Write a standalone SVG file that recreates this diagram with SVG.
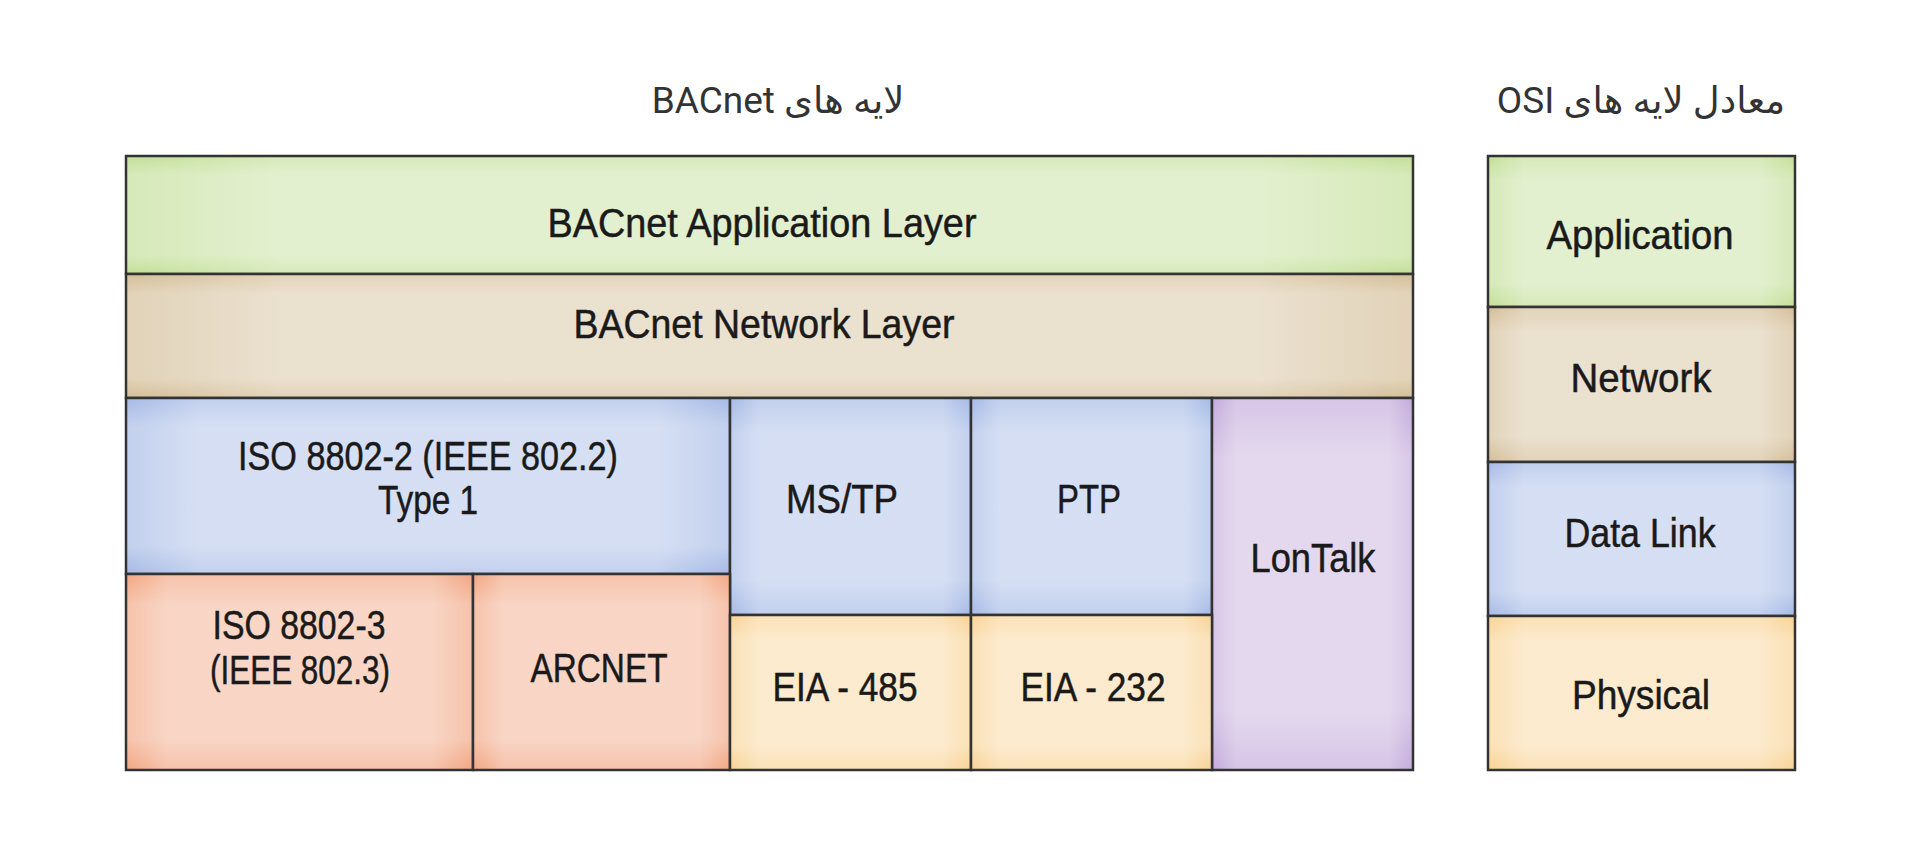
<svg xmlns="http://www.w3.org/2000/svg" width="1920" height="864" viewBox="0 0 1920 864">
  <defs>
    <linearGradient id="gh" x1="0" y1="0" x2="1" y2="0">
      <stop offset="0" stop-color="#ffffff" stop-opacity="0"/>
      <stop offset="0.12" stop-color="#ffffff" stop-opacity="0.32"/>
      <stop offset="0.88" stop-color="#ffffff" stop-opacity="0.32"/>
      <stop offset="1" stop-color="#ffffff" stop-opacity="0"/>
    </linearGradient>
    <linearGradient id="gv" x1="0" y1="0" x2="0" y2="1">
      <stop offset="0" stop-color="#ffffff" stop-opacity="0"/>
      <stop offset="0.16" stop-color="#ffffff" stop-opacity="0.32"/>
      <stop offset="0.84" stop-color="#ffffff" stop-opacity="0.32"/>
      <stop offset="1" stop-color="#ffffff" stop-opacity="0"/>
    </linearGradient>
    <style>
      .green{fill:#c3df98}
      .tan{fill:#d4be98}
      .blue{fill:#a6bae6}
      .salmon{fill:#f2a683}
      .yellow{fill:#f9d395}
      .purple{fill:#c4abdb}
      .oh{fill:url(#gh)}
      .ov{fill:url(#gv)}
      .edge{fill:none;stroke:#333333;stroke-width:2.5}
      .lbl{font-family:"Liberation Sans",Arial,sans-serif;font-size:40px;fill:#1a1a1a;stroke:#1a1a1a;stroke-width:0.5;text-anchor:middle}
      .ttl{font-family:Roboto,"DejaVu Sans","Noto Sans",sans-serif;font-size:37px;fill:#333333;text-anchor:middle}
    </style>
  </defs>
  <rect x="0" y="0" width="1920" height="864" fill="#ffffff"/>

  <g id="title-bacnet">
    <text class="ttl" x="778" y="113" direction="rtl" unicode-bidi="embed">لایه های BACnet</text>
  </g>
  <g id="title-osi">
    <text class="ttl" x="1641" y="113" direction="rtl" unicode-bidi="embed">معادل لایه های OSI</text>
  </g>

  <g id="bacnet-application">
    <rect class="green" x="126" y="156" width="1287" height="118"/>
    <rect class="oh" x="126" y="156" width="1287" height="118"/>
    <rect class="ov" x="126" y="156" width="1287" height="118"/>
    <rect class="edge" x="126" y="156" width="1287" height="118"/>
    <text class="lbl" x="762" y="237" textLength="429" lengthAdjust="spacingAndGlyphs">BACnet Application Layer</text>
  </g>
  <g id="bacnet-network">
    <rect class="tan" x="126" y="274" width="1287" height="124"/>
    <rect class="oh" x="126" y="274" width="1287" height="124"/>
    <rect class="ov" x="126" y="274" width="1287" height="124"/>
    <rect class="edge" x="126" y="274" width="1287" height="124"/>
    <text class="lbl" x="764" y="338" textLength="381" lengthAdjust="spacingAndGlyphs">BACnet Network Layer</text>
  </g>
  <g id="iso-8802-2">
    <rect class="blue" x="126" y="398" width="604" height="176"/>
    <rect class="oh" x="126" y="398" width="604" height="176"/>
    <rect class="ov" x="126" y="398" width="604" height="176"/>
    <rect class="edge" x="126" y="398" width="604" height="176"/>
    <text class="lbl" x="428" y="470" textLength="380" lengthAdjust="spacingAndGlyphs">ISO 8802-2 (IEEE 802.2)</text>
    <text class="lbl" x="428" y="514" textLength="100" lengthAdjust="spacingAndGlyphs">Type 1</text>
  </g>
  <g id="ms-tp">
    <rect class="blue" x="730" y="398" width="241" height="217"/>
    <rect class="oh" x="730" y="398" width="241" height="217"/>
    <rect class="ov" x="730" y="398" width="241" height="217"/>
    <rect class="edge" x="730" y="398" width="241" height="217"/>
    <text class="lbl" x="842" y="513" textLength="112" lengthAdjust="spacingAndGlyphs">MS/TP</text>
  </g>
  <g id="ptp">
    <rect class="blue" x="971" y="398" width="241" height="217"/>
    <rect class="oh" x="971" y="398" width="241" height="217"/>
    <rect class="ov" x="971" y="398" width="241" height="217"/>
    <rect class="edge" x="971" y="398" width="241" height="217"/>
    <text class="lbl" x="1089" y="513" textLength="64" lengthAdjust="spacingAndGlyphs">PTP</text>
  </g>
  <g id="lontalk">
    <rect class="purple" x="1212" y="398" width="201" height="372"/>
    <rect class="oh" x="1212" y="398" width="201" height="372"/>
    <rect class="ov" x="1212" y="398" width="201" height="372"/>
    <rect class="edge" x="1212" y="398" width="201" height="372"/>
    <text class="lbl" x="1313" y="572" textLength="125" lengthAdjust="spacingAndGlyphs">LonTalk</text>
  </g>
  <g id="iso-8802-3">
    <rect class="salmon" x="126" y="574" width="347" height="196"/>
    <rect class="oh" x="126" y="574" width="347" height="196"/>
    <rect class="ov" x="126" y="574" width="347" height="196"/>
    <rect class="edge" x="126" y="574" width="347" height="196"/>
    <text class="lbl" x="299" y="639" textLength="173" lengthAdjust="spacingAndGlyphs">ISO 8802-3</text>
    <text class="lbl" x="300" y="684" textLength="180" lengthAdjust="spacingAndGlyphs">(IEEE 802.3)</text>
  </g>
  <g id="arcnet">
    <rect class="salmon" x="473" y="574" width="257" height="196"/>
    <rect class="oh" x="473" y="574" width="257" height="196"/>
    <rect class="ov" x="473" y="574" width="257" height="196"/>
    <rect class="edge" x="473" y="574" width="257" height="196"/>
    <text class="lbl" x="599" y="682" textLength="137" lengthAdjust="spacingAndGlyphs">ARCNET</text>
  </g>
  <g id="eia-485">
    <rect class="yellow" x="730" y="615" width="241" height="155"/>
    <rect class="oh" x="730" y="615" width="241" height="155"/>
    <rect class="ov" x="730" y="615" width="241" height="155"/>
    <rect class="edge" x="730" y="615" width="241" height="155"/>
    <text class="lbl" x="845" y="701" textLength="145" lengthAdjust="spacingAndGlyphs">EIA - 485</text>
  </g>
  <g id="eia-232">
    <rect class="yellow" x="971" y="615" width="241" height="155"/>
    <rect class="oh" x="971" y="615" width="241" height="155"/>
    <rect class="ov" x="971" y="615" width="241" height="155"/>
    <rect class="edge" x="971" y="615" width="241" height="155"/>
    <text class="lbl" x="1093" y="701" textLength="145" lengthAdjust="spacingAndGlyphs">EIA - 232</text>
  </g>

  <g id="osi-application">
    <rect class="green" x="1488" y="156" width="307" height="151"/>
    <rect class="oh" x="1488" y="156" width="307" height="151"/>
    <rect class="ov" x="1488" y="156" width="307" height="151"/>
    <rect class="edge" x="1488" y="156" width="307" height="151"/>
    <text class="lbl" x="1640" y="249" textLength="187" lengthAdjust="spacingAndGlyphs">Application</text>
  </g>
  <g id="osi-network">
    <rect class="tan" x="1488" y="307" width="307" height="155"/>
    <rect class="oh" x="1488" y="307" width="307" height="155"/>
    <rect class="ov" x="1488" y="307" width="307" height="155"/>
    <rect class="edge" x="1488" y="307" width="307" height="155"/>
    <text class="lbl" x="1641" y="392" textLength="141" lengthAdjust="spacingAndGlyphs">Network</text>
  </g>
  <g id="osi-datalink">
    <rect class="blue" x="1488" y="462" width="307" height="154"/>
    <rect class="oh" x="1488" y="462" width="307" height="154"/>
    <rect class="ov" x="1488" y="462" width="307" height="154"/>
    <rect class="edge" x="1488" y="462" width="307" height="154"/>
    <text class="lbl" x="1640" y="547" textLength="151" lengthAdjust="spacingAndGlyphs">Data Link</text>
  </g>
  <g id="osi-physical">
    <rect class="yellow" x="1488" y="616" width="307" height="154"/>
    <rect class="oh" x="1488" y="616" width="307" height="154"/>
    <rect class="ov" x="1488" y="616" width="307" height="154"/>
    <rect class="edge" x="1488" y="616" width="307" height="154"/>
    <text class="lbl" x="1641" y="709" textLength="138" lengthAdjust="spacingAndGlyphs">Physical</text>
  </g>

  <g id="connectors"></g>
</svg>
